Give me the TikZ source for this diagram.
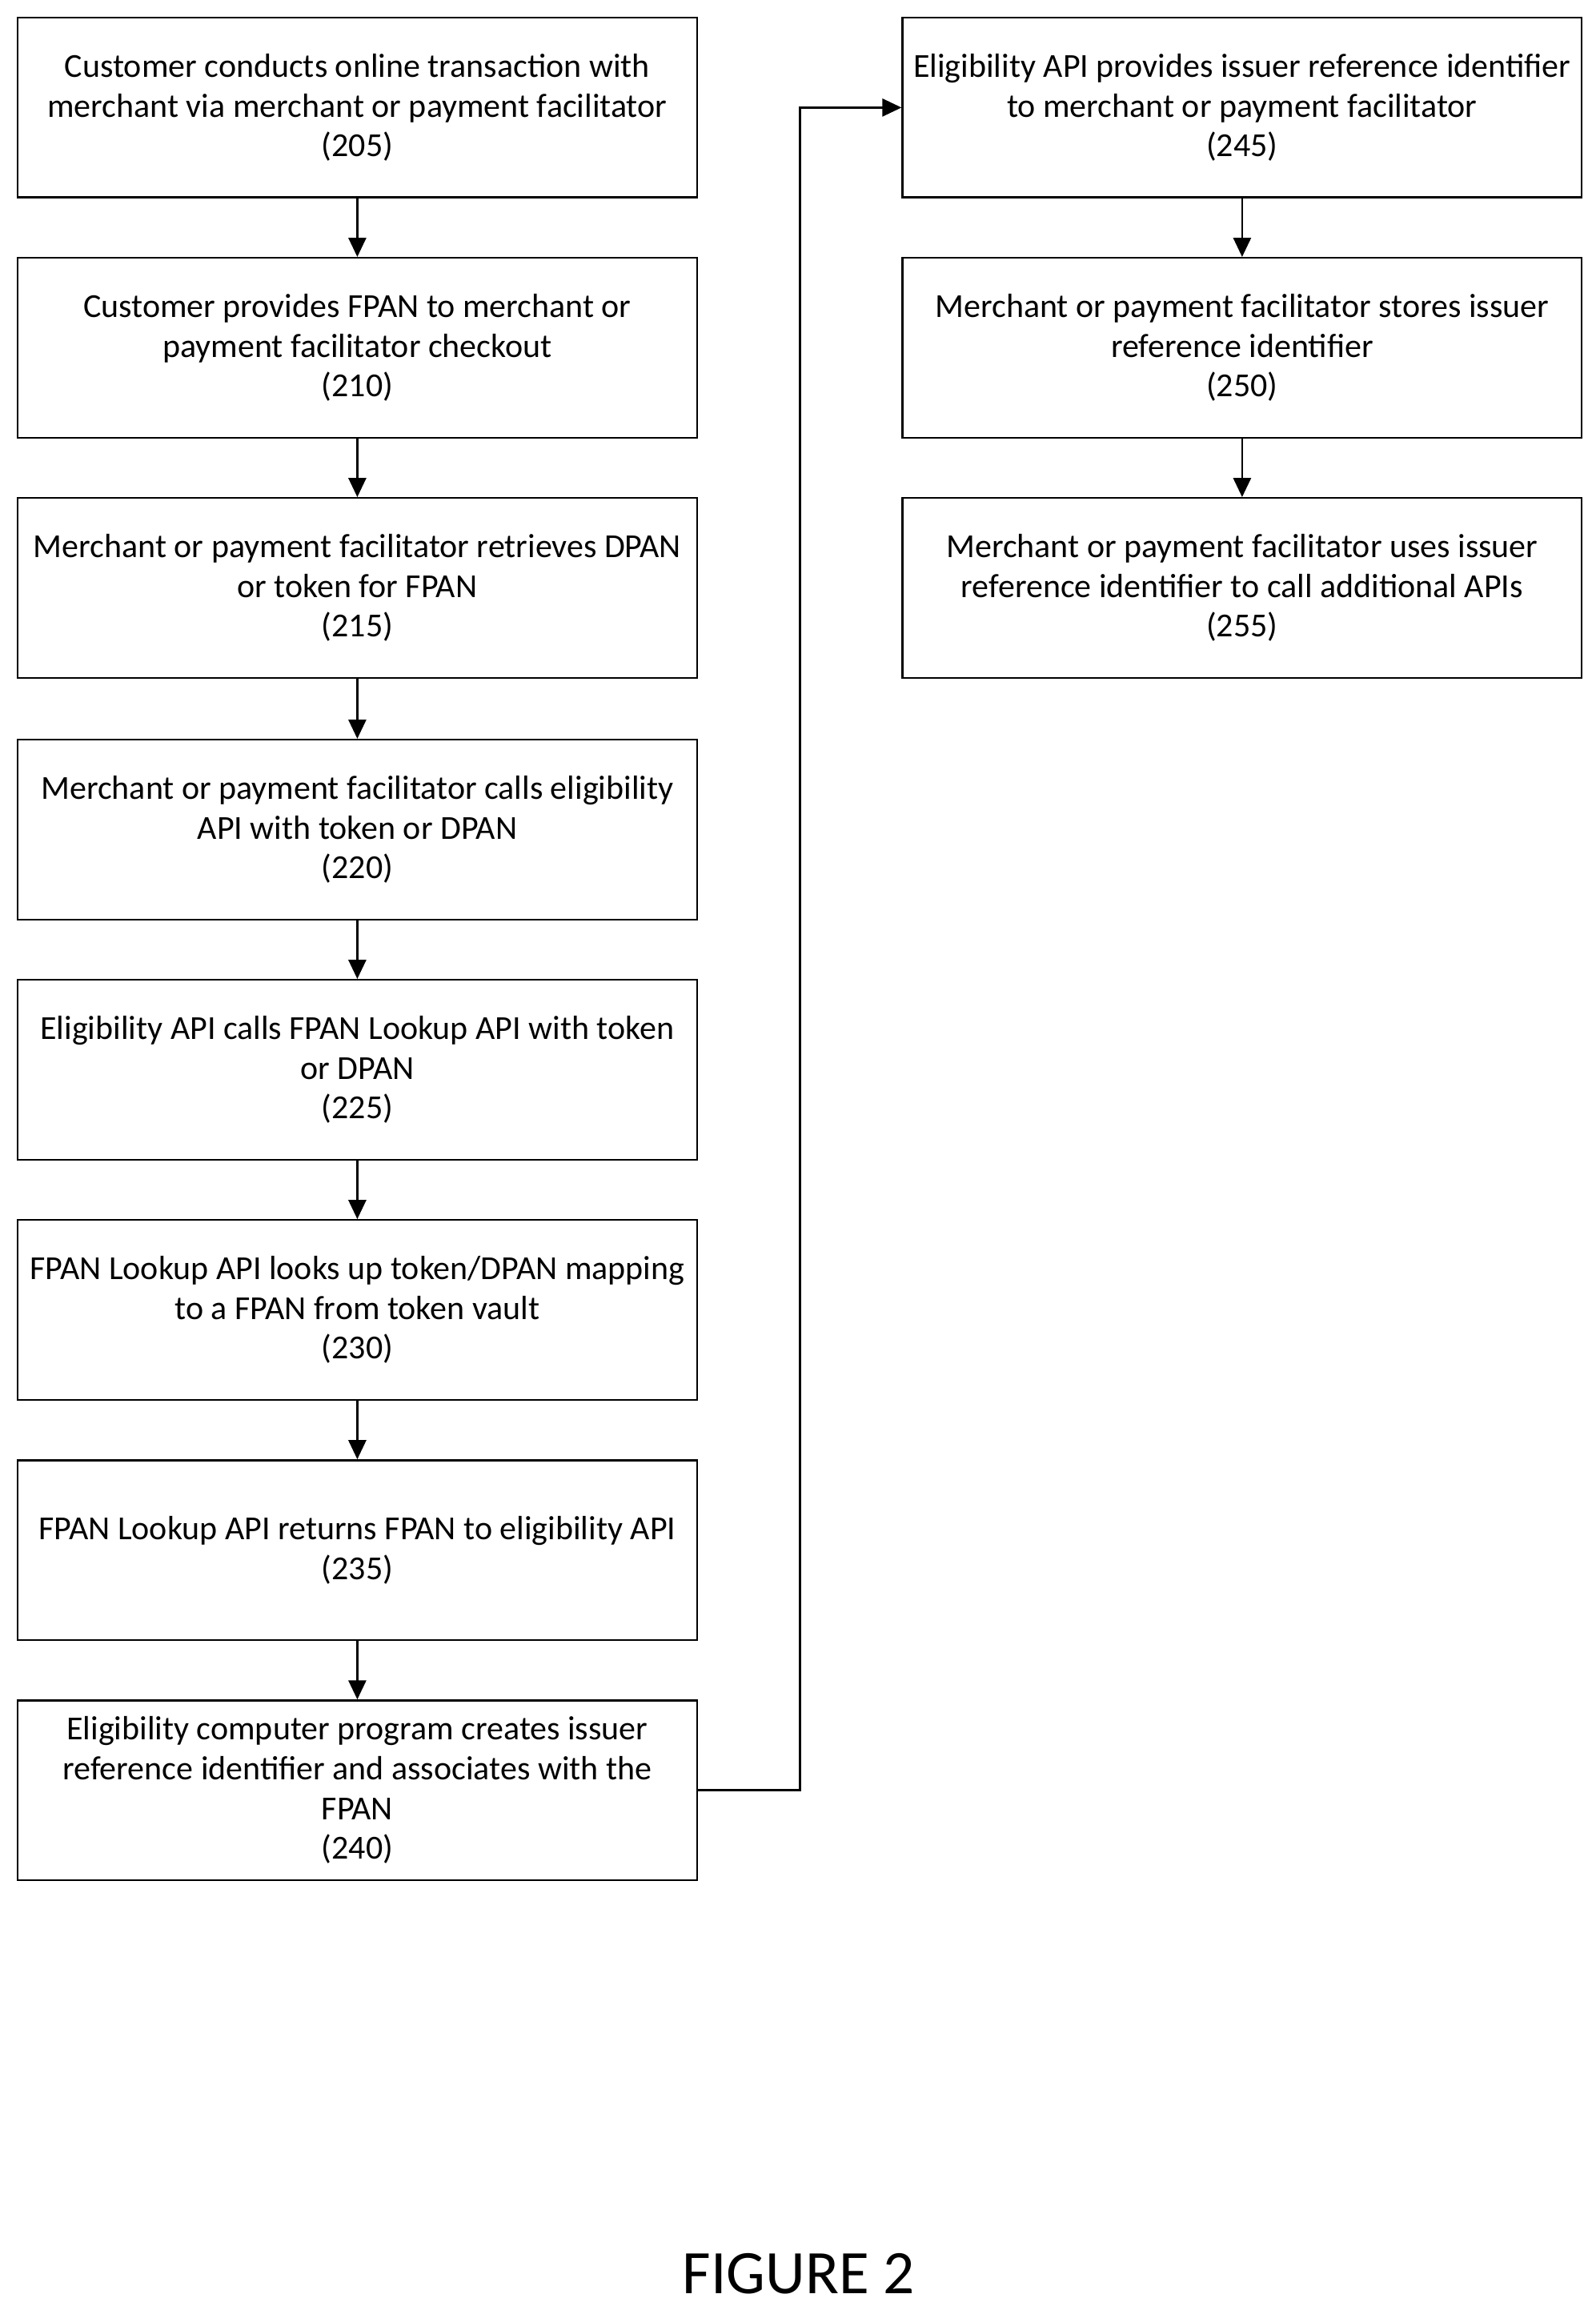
\documentclass[tikz,border=0pt]{standalone}
\usepackage{fontspec}
\setmainfont{Carlito}
\usetikzlibrary{arrows.meta}
\begin{document}
\begin{tikzpicture}[x=1pt,y=-1pt,
 box/.style={draw,line width=1.3pt,minimum width=461pt,minimum height=122pt,align=center,font=\fontsize{22.8}{27}\selectfont,inner sep=0pt},
 arr/.style={-{Triangle[length=13pt,width=12pt]},line width=1.4pt}]
\useasboundingbox (0,0) rectangle (1083,1565);
\node[box] (b205) at (242.5,73) {Customer conducts online transaction with\\merchant via merchant or payment facilitator\\(205)};
\node[box] (b210) at (242.5,236) {Customer provides FPAN to merchant or\\payment facilitator checkout\\(210)};
\node[box] (b215) at (242.5,399) {Merchant or payment facilitator retrieves DPAN\\or token for FPAN\\(215)};
\node[box] (b220) at (242.5,563) {Merchant or payment facilitator calls eligibility\\API with token or DPAN\\(220)};
\node[box] (b225) at (242.5,726) {Eligibility API calls FPAN Lookup API with token\\or DPAN\\(225)};
\node[box] (b230) at (242.5,889) {FPAN Lookup API looks up token/DPAN mapping\\to a FPAN from token vault\\(230)};
\node[box] (b235) at (242.5,1052) {FPAN Lookup API returns FPAN to eligibility API\\(235)};
\node[box] (b240) at (242.5,1215) {Eligibility computer program creates issuer\\reference identifier and associates with the\\FPAN\\(240)};
\node[box] (b245) at (843,73) {Eligibility API provides issuer reference identifier\\to merchant or payment facilitator\\(245)};
\node[box] (b250) at (843,236) {Merchant or payment facilitator stores issuer\\reference identifier\\(250)};
\node[box] (b255) at (843,399) {Merchant or payment facilitator uses issuer\\reference identifier to call additional APIs\\(255)};
\foreach \a/\b in {b205/b210,b210/b215,b215/b220,b220/b225,b225/b230,b230/b235,b235/b240,b245/b250,b250/b255}
  \draw[arr] (\a) -- (\b);
\coordinate (c1) at (543,1215);
\coordinate (c2) at (543,73);
\draw[arr] (b240.east) -- (c1) -- (c2) -- (b245.west);
\node[font=\fontsize{42}{48}\selectfont] (fig) at (542,1543) {FIGURE 2};
\end{tikzpicture}
\end{document}
